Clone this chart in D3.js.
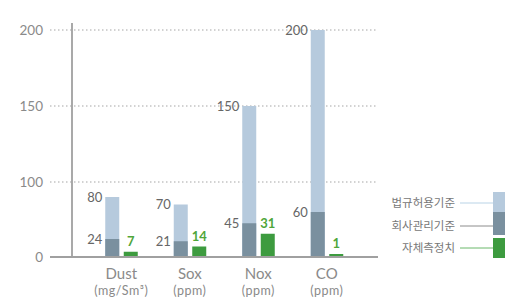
<!DOCTYPE html>
<html>
<head>
<meta charset="utf-8">
<script src="https://cdn.jsdelivr.net/npm/d3@7/dist/d3.min.js"></script>
<style>
  html, body { margin: 0; padding: 0; background: #fff; }
  svg { display: block; font-family: Lato, "Noto Sans", sans-serif; }
</style>
</head>
<body>
<svg id="chart" width="509" height="297"></svg>
<script>
// data
const categories = ["Dust", "Sox", "Nox", "CO"];
const units = ["(mg/Sm³)", "(ppm)", "(ppm)", "(ppm)"];
const legalLimit = [80, 70, 150, 200];     // 법규허용기준
const companyLimit = [24, 21, 45, 60];     // 회사관리기준
const measured = [7, 14, 31, 1];           // 자체측정치
const yTicks = [0, 100, 150, 200];
const legendLabels = ["법규허용기준", "회사관리기준", "자체측정치"];

const colors = {
  legal: "#b6cadd",
  company: "#7a909f",
  measured: "#3d9b3f",
  measuredText: "#4fa63a",
  axis: "#a0a0a0",
  grid: "#c4c4c4",
  text: "#8a8a8a",
  value: "#666"
};

const svg = d3.select("#chart");

// the value axis is not linear: 0..100 is squeezed, 100..200 stretched
const y = d3.scaleLinear()
  .domain(yTicks)
  .range([257, 182, 106, 30]);

const x = d3.scaleBand()
  .domain(categories)
  .range([87, 361])
  .padding(0);

const barW = 14;

// grid lines
svg.append("g")
  .selectAll("line")
  .data(yTicks.filter(d => d > 0))
  .join("line")
  .attr("x1", 50)
  .attr("x2", 378)
  .attr("y1", d => y(d))
  .attr("y2", d => y(d))
  .attr("stroke", colors.grid)
  .attr("stroke-width", 1.3)
  .attr("stroke-dasharray", "1.5,2.5");

// tick labels
svg.append("g")
  .selectAll("text")
  .data(yTicks)
  .join("text")
  .attr("x", 43)
  .attr("y", d => y(d))
  .attr("dy", "0.35em")
  .attr("text-anchor", "end")
  .attr("fill", colors.text)
  .style("font-size", "13.5px")
  .text(d => d);

// vertical axis
svg.append("line")
  .attr("x1", 72).attr("x2", 72)
  .attr("y1", y(200) - 7).attr("y2", y(0))
  .attr("stroke", colors.axis)
  .attr("stroke-width", 1.8);

const groups = svg.append("g")
  .selectAll("g")
  .data(categories.map((c, i) => ({
    cat: c, unit: units[i], legal: legalLimit[i], company: companyLimit[i], measured: measured[i]
  })))
  .join("g")
  .attr("transform", d => `translate(${x(d.cat) + x.bandwidth() / 2},0)`);

// legal limit bar (light)
groups.append("rect")
  .attr("x", -16)
  .attr("width", barW)
  .attr("y", d => y(d.legal))
  .attr("height", d => y(0) - y(d.legal))
  .attr("fill", colors.legal);

// company limit bar (dark)
groups.append("rect")
  .attr("x", -16)
  .attr("width", barW)
  .attr("y", d => y(d.company))
  .attr("height", d => y(0) - y(d.company))
  .attr("fill", colors.company);

// measured bar (green)
groups.append("rect")
  .attr("x", 2.5)
  .attr("width", barW)
  .attr("y", d => Math.min(y(d.measured), y(0) - 3))
  .attr("height", d => Math.max(y(0) - y(d.measured), 3))
  .attr("fill", colors.measured);

// value labels
groups.append("text")
  .attr("x", -19)
  .attr("y", d => y(d.legal))
  .attr("dy", "0.35em")
  .attr("text-anchor", "end")
  .attr("fill", colors.value)
  .style("font-size", "13px")
  .text(d => d.legal);

groups.append("text")
  .attr("x", -19)
  .attr("y", d => y(d.company))
  .attr("dy", "0.35em")
  .attr("text-anchor", "end")
  .attr("fill", colors.value)
  .style("font-size", "13px")
  .text(d => d.company);

groups.append("text")
  .attr("x", 9.5)
  .attr("y", d => Math.min(y(d.measured), y(0) - 3) - 6)
  .attr("text-anchor", "middle")
  .attr("fill", colors.measuredText)
  .style("font-size", "13px")
  .style("font-weight", "bold")
  .text(d => d.measured);

// category labels
groups.append("text")
  .attr("y", 279)
  .attr("text-anchor", "middle")
  .attr("fill", colors.text)
  .style("font-size", "15px")
  .text(d => d.cat);

groups.append("text")
  .attr("y", 295)
  .attr("text-anchor", "middle")
  .attr("fill", colors.text)
  .style("font-size", "12.5px")
  .style("letter-spacing", "0.5px")
  .text(d => d.unit);

// baseline
svg.append("line")
  .attr("x1", 50).attr("x2", 378)
  .attr("y1", y(0)).attr("y2", y(0))
  .attr("stroke", colors.axis)
  .attr("stroke-width", 2);

// legend
const legend = [
  { label: legendLabels[0], fill: colors.legal, line: "#b9d3e6", y0: 192, y1: 212, ly: 203 },
  { label: legendLabels[1], fill: colors.company, line: "#8c8c8c", y0: 212, y1: 235, ly: 226 },
  { label: legendLabels[2], fill: colors.measured, line: "#6bb86b", y0: 238, y1: 258, ly: 248 }
];

const lg = svg.append("g");
lg.selectAll("rect")
  .data(legend)
  .join("rect")
  .attr("x", 493)
  .attr("width", 12)
  .attr("y", d => d.y0)
  .attr("height", d => d.y1 - d.y0)
  .attr("fill", d => d.fill);

lg.selectAll("line")
  .data(legend)
  .join("line")
  .attr("x1", 460).attr("x2", 493)
  .attr("y1", d => d.ly).attr("y2", d => d.ly)
  .attr("stroke", d => d.line)
  .attr("stroke-width", 1);

lg.selectAll("text")
  .data(legend)
  .join("text")
  .attr("x", 455)
  .attr("y", d => d.ly)
  .attr("dy", "0.35em")
  .attr("text-anchor", "end")
  .attr("fill", "#777")
  .style("font-family", "'Noto Sans CJK KR', sans-serif")
  .style("font-size", "11.5px")
  .text(d => d.label);
</script>
</body>
</html>
